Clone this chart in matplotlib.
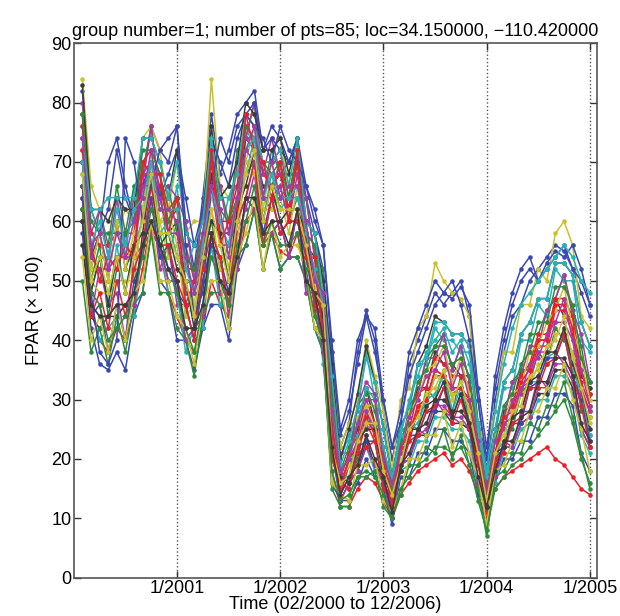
import numpy as np
import matplotlib
matplotlib.use("Agg")
import matplotlib.pyplot as plt

# monthly samples, Feb 2000 .. Jan 2005
months = np.arange(1, 61)
years = 2000 + months / 12.0

tick_pos = [2001, 2002, 2003, 2004, 2005]
tick_labels = ["1/2001", "1/2002", "1/2003", "1/2004", "1/2005"]

# FPAR (x100), one list per pixel series
s01 = [82, 62, 58, 70, 74, 66, 60, 68, 76, 72, 70, 76, 60, 52, 64, 78, 68, 72, 78, 80,
       82, 72, 76, 74, 70, 74, 64, 58, 52, 34, 22, 26, 38, 45, 40, 28, 20, 26, 36, 40,
       44, 48, 46, 48, 50, 44, 30, 18, 30, 38, 44, 46, 50, 52, 54, 56, 55, 52, 48, 44]
s02 = [60, 45, 40, 38, 42, 40, 45, 52, 60, 55, 48, 44, 40, 38, 42, 50, 46, 44, 52, 60,
       62, 56, 58, 55, 54, 58, 50, 45, 38, 18, 12, 12, 15, 17, 16, 13, 10, 14, 16, 18,
       19, 20, 21, 19, 20, 18, 14, 10, 15, 17, 18, 19, 20, 21, 22, 20, 19, 17, 15, 14]
s03 = [70, 50, 56, 44, 52, 58, 50, 62, 58, 66, 54, 60, 44, 50, 58, 60, 52, 56, 64, 68,
       70, 64, 62, 66, 60, 64, 58, 46, 44, 28, 18, 16, 20, 28, 24, 20, 14, 18, 26, 25,
       32, 30, 35, 28, 34, 26, 22, 14, 19, 26, 25, 31, 33, 38, 36, 42, 40, 38, 28, 27]
s04 = [76, 62, 58, 52, 64, 54, 66, 62, 70, 68, 58, 66, 52, 56, 54, 72, 58, 64, 66, 76,
       72, 70, 66, 70, 62, 72, 56, 58, 46, 34, 20, 24, 28, 38, 30, 26, 16, 26, 28, 36,
       36, 42, 40, 40, 38, 38, 24, 18, 24, 32, 32, 40, 40, 46, 44, 52, 50, 50, 40, 38]
s05 = [64, 44, 52, 46, 48, 40, 54, 56, 64, 52, 56, 46, 46, 40, 50, 56, 54, 44, 58, 62,
       68, 56, 64, 58, 60, 60, 54, 46, 42, 22, 14, 17, 19, 24, 18, 17, 11, 19, 20, 25,
       24, 30, 28, 27, 26, 25, 16, 13, 17, 23, 22, 28, 28, 34, 32, 38, 36, 35, 25, 24]
s06 = [84, 66, 62, 64, 58, 62, 60, 74, 76, 72, 62, 70, 58, 60, 60, 84, 66, 64, 68, 78,
       78, 72, 72, 74, 66, 74, 60, 58, 48, 38, 22, 26, 30, 40, 34, 28, 18, 30, 32, 42,
       44, 53, 50, 48, 47, 44, 26, 22, 28, 38, 38, 46, 46, 52, 50, 58, 60, 56, 44, 42]
s07 = [78, 52, 58, 50, 60, 52, 56, 66, 68, 64, 58, 60, 50, 50, 54, 68, 58, 58, 62, 74,
       72, 66, 66, 68, 62, 70, 56, 54, 42, 28, 17, 21, 25, 32, 26, 22, 13, 23, 27, 32,
       32, 38, 36, 36, 34, 34, 20, 16, 21, 28, 29, 35, 35, 40, 40, 47, 44, 44, 34, 32]
s08 = [58, 42, 36, 35, 38, 35, 44, 48, 58, 50, 48, 40, 40, 35, 42, 46, 46, 40, 52, 56,
       62, 52, 58, 52, 54, 54, 50, 42, 38, 16, 13, 13, 16, 20, 17, 15, 9, 17, 17, 21,
       21, 25, 25, 23, 23, 21, 14, 9, 16, 20, 20, 23, 23, 27, 27, 31, 31, 29, 21, 18]
s09 = [72, 54, 62, 56, 66, 58, 66, 68, 76, 64, 66, 58, 56, 50, 62, 66, 66, 60, 72, 74,
       80, 64, 72, 68, 68, 68, 64, 54, 52, 30, 19, 19, 29, 31, 31, 21, 17, 21, 28, 31,
       37, 39, 41, 35, 39, 33, 25, 14, 25, 27, 33, 35, 41, 41, 45, 47, 51, 44, 39, 31]
s10 = [74, 54, 52, 52, 54, 54, 56, 68, 70, 66, 60, 62, 48, 48, 54, 70, 58, 58, 64, 76,
       74, 68, 66, 68, 62, 70, 56, 52, 42, 24, 14, 19, 21, 26, 23, 19, 12, 21, 23, 28,
       29, 34, 34, 31, 32, 29, 19, 14, 19, 26, 27, 32, 34, 39, 39, 45, 45, 41, 32, 28]
s11 = [62, 46, 40, 42, 44, 44, 44, 56, 58, 56, 48, 48, 38, 42, 42, 56, 46, 48, 52, 64,
       62, 58, 58, 60, 54, 62, 48, 48, 36, 21, 13, 16, 18, 22, 18, 16, 10, 18, 19, 23,
       23, 27, 27, 25, 25, 23, 15, 11, 16, 21, 21, 25, 26, 30, 30, 34, 34, 31, 24, 21]
s12 = [80, 58, 62, 54, 64, 56, 64, 66, 76, 64, 66, 64, 60, 50, 62, 70, 66, 58, 70, 74,
       80, 68, 74, 68, 70, 70, 64, 54, 50, 26, 21, 21, 29, 33, 31, 21, 17, 21, 29, 31,
       37, 37, 41, 35, 39, 33, 25, 15, 25, 27, 33, 34, 39, 39, 45, 47, 51, 45, 41, 33]
s13 = [66, 50, 48, 48, 50, 50, 50, 62, 62, 60, 54, 56, 44, 46, 48, 62, 52, 52, 56, 70,
       68, 62, 62, 64, 58, 66, 52, 50, 40, 26, 16, 19, 23, 29, 25, 20, 13, 21, 24, 29,
       29, 34, 33, 31, 31, 29, 20, 15, 20, 25, 26, 31, 32, 36, 36, 41, 41, 38, 30, 27]
s14 = [56, 44, 42, 44, 44, 46, 46, 58, 58, 56, 50, 50, 40, 42, 44, 58, 48, 50, 54, 64,
       62, 58, 58, 60, 54, 62, 50, 48, 38, 22, 13, 16, 18, 23, 19, 17, 10, 19, 20, 24,
       24, 28, 28, 26, 26, 25, 16, 12, 17, 22, 22, 26, 27, 31, 31, 35, 35, 32, 25, 22]
s15 = [70, 54, 58, 62, 72, 64, 60, 66, 70, 64, 68, 72, 64, 56, 62, 74, 70, 66, 74, 78,
       80, 72, 74, 72, 70, 74, 66, 60, 56, 38, 24, 28, 36, 44, 42, 30, 22, 26, 34, 38,
       42, 46, 48, 47, 49, 46, 32, 22, 32, 40, 46, 50, 52, 50, 53, 55, 54, 56, 52, 46]
s16 = [50, 38, 42, 36, 44, 38, 46, 48, 58, 48, 48, 42, 40, 34, 44, 48, 48, 42, 54, 56,
       62, 52, 58, 52, 54, 54, 50, 42, 38, 15, 12, 12, 17, 17, 18, 12, 10, 14, 19, 19,
       22, 21, 25, 20, 24, 19, 15, 7, 17, 18, 21, 21, 26, 25, 29, 29, 33, 27, 21, 15]
s17 = [76, 58, 56, 56, 58, 58, 58, 70, 72, 68, 62, 64, 52, 52, 56, 72, 60, 60, 66, 78,
       76, 70, 70, 72, 64, 72, 58, 56, 44, 28, 17, 21, 24, 30, 26, 21, 14, 22, 25, 31,
       32, 37, 36, 34, 34, 32, 21, 15, 21, 27, 29, 34, 36, 41, 41, 47, 47, 44, 35, 31]
s18 = [68, 48, 54, 46, 56, 48, 56, 60, 70, 58, 60, 54, 50, 44, 54, 60, 58, 50, 62, 68,
       74, 60, 68, 62, 64, 64, 58, 48, 46, 22, 17, 17, 24, 25, 26, 17, 14, 19, 25, 26,
       30, 31, 34, 28, 32, 26, 21, 12, 21, 23, 27, 28, 33, 33, 37, 38, 42, 35, 31, 24]
s19 = [60, 46, 44, 44, 46, 46, 46, 56, 58, 56, 50, 50, 40, 42, 44, 58, 48, 48, 52, 64,
       62, 58, 58, 60, 54, 62, 48, 48, 38, 22, 13, 16, 18, 22, 19, 16, 10, 19, 20, 24,
       25, 29, 29, 27, 27, 25, 16, 12, 17, 22, 22, 26, 27, 32, 32, 36, 36, 33, 25, 22]
s20 = [72, 52, 58, 50, 60, 52, 58, 62, 72, 60, 62, 56, 54, 46, 58, 64, 60, 52, 64, 70,
       76, 62, 70, 64, 66, 66, 60, 50, 48, 26, 19, 19, 27, 29, 29, 19, 16, 21, 28, 30,
       35, 36, 39, 33, 37, 31, 24, 14, 24, 26, 31, 32, 38, 39, 43, 45, 49, 42, 37, 30]
s21 = [83, 62, 62, 60, 64, 62, 62, 74, 74, 70, 64, 72, 58, 56, 60, 76, 64, 66, 70, 80,
       78, 72, 72, 74, 68, 74, 60, 58, 50, 36, 20, 25, 31, 39, 33, 25, 17, 25, 29, 36,
       39, 44, 43, 41, 41, 39, 26, 18, 25, 33, 35, 41, 43, 47, 47, 53, 53, 51, 43, 39]
s22 = [64, 44, 46, 38, 46, 40, 50, 54, 64, 54, 56, 48, 46, 40, 50, 56, 54, 48, 60, 64,
       70, 58, 64, 58, 60, 60, 54, 46, 44, 20, 16, 15, 22, 23, 23, 16, 13, 18, 24, 24,
       28, 28, 32, 27, 31, 25, 20, 11, 20, 22, 26, 26, 32, 33, 37, 37, 41, 34, 30, 23]
s23 = [78, 60, 58, 58, 58, 58, 60, 72, 72, 68, 60, 64, 54, 52, 58, 74, 62, 60, 64, 76,
       74, 70, 68, 70, 64, 72, 58, 56, 46, 32, 18, 22, 26, 32, 28, 22, 15, 23, 27, 33,
       35, 39, 39, 36, 37, 34, 23, 16, 23, 29, 31, 36, 38, 43, 43, 49, 49, 46, 37, 33]
s24 = [62, 44, 48, 42, 50, 44, 52, 56, 66, 56, 56, 50, 46, 40, 52, 58, 54, 46, 60, 64,
       70, 56, 64, 58, 60, 60, 56, 46, 44, 20, 16, 15, 21, 22, 23, 15, 13, 18, 23, 24,
       28, 29, 32, 26, 30, 25, 19, 11, 20, 21, 26, 27, 32, 32, 36, 37, 41, 34, 29, 22]
s25 = [74, 62, 62, 64, 64, 64, 64, 74, 74, 70, 64, 70, 58, 56, 60, 74, 64, 64, 68, 78,
       76, 70, 70, 72, 66, 74, 60, 58, 48, 34, 19, 23, 29, 37, 33, 25, 17, 25, 29, 36,
       37, 43, 43, 41, 41, 39, 25, 17, 25, 33, 35, 41, 43, 47, 47, 53, 53, 51, 43, 39]
s26 = [70, 54, 52, 52, 54, 54, 54, 66, 66, 64, 58, 58, 48, 48, 52, 66, 56, 56, 60, 72,
       70, 64, 64, 66, 60, 68, 54, 52, 42, 26, 16, 20, 23, 28, 25, 20, 13, 22, 24, 29,
       30, 35, 34, 32, 32, 30, 20, 15, 20, 26, 27, 32, 33, 38, 38, 43, 43, 40, 31, 28]
s27 = [54, 40, 44, 38, 46, 40, 48, 50, 60, 50, 50, 44, 42, 36, 46, 50, 50, 42, 54, 58,
       64, 52, 60, 54, 56, 56, 52, 42, 40, 16, 14, 13, 19, 19, 20, 13, 11, 15, 20, 20,
       24, 24, 28, 22, 26, 21, 17, 9, 18, 19, 23, 23, 28, 28, 32, 32, 36, 30, 25, 18]
s28 = [66, 48, 54, 46, 54, 48, 56, 58, 68, 56, 58, 52, 50, 42, 54, 60, 58, 50, 62, 66,
       72, 60, 66, 60, 62, 62, 58, 48, 44, 22, 17, 16, 23, 25, 25, 17, 14, 18, 25, 25,
       29, 30, 33, 27, 31, 26, 20, 12, 21, 22, 27, 28, 33, 34, 38, 38, 42, 36, 32, 25]
s29 = [66, 48, 38, 36, 40, 74, 70, 60, 66, 72, 74, 76, 56, 44, 48, 66, 74, 70, 76, 78,
       76, 74, 70, 76, 72, 70, 66, 62, 56, 40, 25, 30, 40, 44, 38, 30, 22, 28, 38, 42,
       46, 50, 48, 50, 46, 40, 30, 20, 34, 42, 48, 52, 54, 50, 52, 54, 56, 52, 50, 46]
s30 = [62, 48, 46, 40, 42, 44, 48, 54, 62, 58, 52, 48, 42, 38, 46, 54, 50, 46, 56, 60,
       66, 56, 60, 56, 56, 58, 52, 44, 40, 18, 13, 14, 17, 18, 17, 14, 10, 15, 17, 19,
       20, 22, 22, 21, 22, 19, 13, 8, 15, 17, 19, 20, 22, 24, 26, 28, 30, 26, 20, 16]
s31 = [72, 56, 50, 54, 52, 56, 54, 70, 68, 68, 58, 64, 46, 50, 52, 72, 56, 60, 62, 78,
       72, 70, 64, 70, 60, 72, 54, 54, 40, 26, 15, 20, 22, 27, 24, 20, 12, 22, 24, 29,
       30, 35, 34, 32, 32, 30, 20, 15, 20, 27, 28, 33, 35, 40, 40, 46, 46, 42, 33, 29]
s32 = [70, 56, 60, 54, 62, 56, 62, 64, 70, 62, 62, 62, 52, 48, 56, 66, 60, 56, 64, 72,
       74, 64, 68, 64, 64, 66, 58, 52, 46, 28, 18, 20, 26, 32, 30, 22, 16, 24, 30, 34,
       38, 40, 42, 38, 40, 36, 26, 18, 28, 36, 42, 46, 48, 50, 52, 54, 56, 54, 50, 48]
s33 = [74, 56, 58, 52, 58, 54, 60, 64, 72, 62, 62, 60, 54, 48, 58, 66, 62, 54, 64, 72,
       76, 64, 70, 64, 66, 66, 60, 50, 48, 28, 18, 20, 26, 30, 30, 20, 16, 21, 27, 30,
       34, 35, 38, 32, 36, 30, 23, 14, 23, 25, 30, 31, 36, 37, 41, 43, 47, 40, 35, 29]
s34 = [68, 50, 54, 48, 54, 48, 54, 60, 68, 58, 58, 54, 50, 44, 54, 62, 56, 50, 60, 68,
       72, 60, 66, 62, 62, 62, 56, 48, 46, 22, 16, 17, 23, 26, 26, 18, 14, 19, 25, 27,
       31, 32, 35, 30, 33, 28, 21, 13, 21, 24, 28, 29, 34, 35, 39, 40, 44, 37, 32, 26]
s35 = [60, 46, 44, 44, 46, 46, 48, 56, 60, 56, 52, 50, 42, 42, 46, 58, 50, 48, 54, 64,
       64, 58, 60, 60, 56, 62, 50, 48, 40, 22, 14, 17, 19, 24, 20, 17, 11, 19, 21, 25,
       26, 30, 30, 28, 28, 26, 17, 12, 18, 23, 23, 27, 28, 33, 33, 37, 37, 34, 26, 23]

series = [s01, s03, s02, s04, s05, s06, s07, s08, s09, s10, s11, s12, s13, s14,
          s15, s16, s17, s18, s19, s20, s21, s22, s23, s24, s25, s26, s27, s28,
          s29, s30, s31, s32, s33, s34, s35]

# matlab default colour order, a bit faded like the print
colors = ["#3a48b0", "#2e8a3c", "#e8202a", "#28b2b8", "#a83aa8", "#c9c22c", "#3c3c3c"]

plt.rcParams["font.family"] = ["Liberation Sans", "DejaVu Sans"]

fig = plt.figure(figsize=(6.2, 6.16), dpi=100)
ax = fig.add_axes([0.119, 0.062, 0.844, 0.868])

for i, s in enumerate(series):
    ax.plot(years, s, ".-", color=colors[i % len(colors)], lw=1.1, ms=4.5)

ax.set_xlim(2000.0, 2005.07)
ax.set_ylim(0, 90)
ax.set_yticks(range(0, 91, 10))
ax.set_xticks(tick_pos)
ax.set_xticklabels(tick_labels)
ax.xaxis.grid(True, linestyle=":", color="#555555", lw=1.0)
ax.tick_params(direction="in", top=True, right=True, labelsize=13, length=5,
               width=1.0, color="#333333", pad=1.5)
for sp in ax.spines.values():
    sp.set_color("#555555")
    sp.set_linewidth(1.2)

ax.set_ylabel("FPAR (\u00d7 100)", fontsize=13, labelpad=6)
ax.set_xlabel("Time (02/2000 to 12/2006)", fontsize=13, labelpad=-1)
ax.set_title("group number=1; number of pts=85; loc=34.150000, \u2212110.420000",
             fontsize=13, pad=5)

fig.savefig("out.png", dpi=100)
